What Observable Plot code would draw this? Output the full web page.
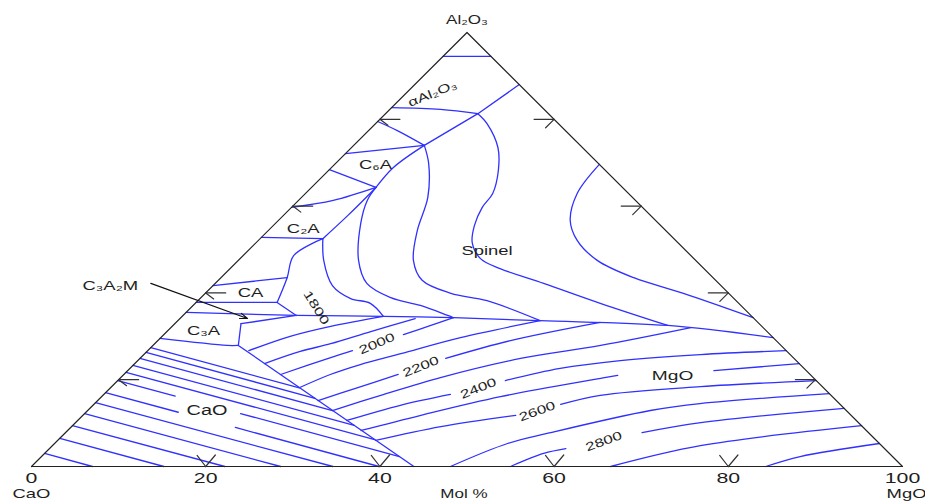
<!DOCTYPE html>
<html><head><meta charset="utf-8">
<script src="https://cdn.jsdelivr.net/npm/d3@7"></script>
<script src="https://cdn.jsdelivr.net/npm/@observablehq/plot@0.6"></script>
<style>html,body{margin:0;padding:0;background:#fff;}</style>
</head><body><div id="chart"></div>
<script>
// All compositions in mol %: [MgO, Al2O3]  (CaO = 100 - MgO - Al2O3)
const triangle = [[0,0],[100,0],[0,100],[0,0]];
const tickValues = [20,40,60,80];
const axisNumbers = [0,20,40,60,80,100];

const phaseBoundaries = [
  [[0,94.5],[5.5,94.5]],
  [[0,82.7],[5.8,82.3],[10.6,81.3]],
  [[10.6,81.3],[12,88]],
  [[10.6,81.3],[8.1,74.0]],
  [[0,79.5],[3.3,77.4],[8.1,74.0]],
  [[0,72.1],[8.1,74.0]],
  [[7.4,64.3],[7.1,68.9],[8.1,74.0]],
  [[0,68.4],[7.4,64.3]],
  [[0,59.7],[4.0,61.3],[7.4,64.3]],
  [[0,52.8],[7.2,52.5]],
  [[7.2,52.5],[7.4,57.8],[7.4,64.3]],
  [[7.2,52.5],[5.8,48.6],[7.6,43.5],[9.3,37.8]],
  [[0,41.7],[7.6,43.5]],
  [[0,37.8],[9.3,37.8]],
  [[9.3,37.8],[13.0,34.8]],
  [[0,35.5],[13.0,34.8]],
  [[7.6,32.9],[13.0,34.8]],
  [[7.6,32.9],[9.8,27.9]],
  [[0,29.5],[8.5,27.9],[9.8,27.9]],
  [[9.8,27.9],[43.9,0]],
  [[13.0,34.8],[23.1,34.6],[31.3,34.3],[41.6,33.6],[56.8,32.5],[70.3,29.7]]
];

const spinelIsotherms = [
  [[30.4,69.6],[31.2,62.9],[33.5,56.7],[36.6,52.1],[41.2,47.5],[47.4,43.5],[54.9,39.9],[65.7,34.3]],
  [[10.6,81.3],[12.8,79.0],[16.8,73.5],[19.5,68.2],[21.5,62.9],[21.9,59.7],[23.1,55.5],[24.8,51.6],[27.6,47.9],[31.0,45.6],[37.7,42.2],[46.5,37.6],[56.8,32.5]],
  [[8.1,74.0],[10.7,69.8],[14.5,62.0],[17.1,54.4],[20.1,47.5],[23.4,42.9],[28.2,39.9],[33.2,38.2],[41.6,33.6]],
  [[7.4,64.3],[7.9,61.3],[9.8,56.0],[13.8,47.5],[17.4,42.2],[21.8,38.9],[26.1,37.1],[31.3,34.3]],
  [[7.2,52.5],[9.8,47.5],[13.7,41.7],[17.3,38.7],[20.1,37.6],[23.1,34.6]]
];

const mgoIsotherms = [
  [[11.6,26.7],[14.7,30.0],[18.2,32.3],[23.1,34.6]],
  [[14.9,23.7],[17.6,26.5],[20.2,28.3],[23.4,31.1],[27.0,34.1]],
  [[18.0,21.2],[21.8,25.1],[23.5,26.7]],
  [[27.5,30.4],[29.6,32.5],[31.3,34.3]],
  [[21.7,18.2],[23.7,21.2],[26.0,23.5],[29.4,26.0],[34.4,29.7],[41.6,33.6]],
  [[25.3,15.2],[28.2,18.0],[31.5,21.2]],
  [[35.1,24.9],[40.5,29.0],[48.7,33.2]],
  [[28.1,12.9],[31.9,16.4],[36.7,20.5],[43.7,24.9],[51.4,27.9],[59.7,32.0]],
  [[30.9,10.6],[35.3,14.1],[39.8,16.6]],
  [[44.5,19.8],[49.4,22.6],[55.4,24.4],[63.9,25.8],[73.3,26.7]],
  [[33.7,8.3],[38.8,11.8],[45.8,16.1],[55.2,20.3],[56.8,21.0]],
  [[67.3,22.1],[76.3,23.7]],
  [[36.5,6.0],[42.4,9.2],[49.7,11.8]],
  [[53.6,14.3],[57.1,16.4],[67.6,18.4],[80.2,19.8]],
  [[48.1,0],[52.0,5.3],[55.7,7.8],[64.6,12.9],[69.5,14.5],[83.2,16.8]],
  [[55.0,0],[57.3,3.0],[59.3,4.1]],
  [[66.2,7.8],[71.8,10.1],[86.6,13.4]],
  [[66.5,0],[74.4,4.8],[90.6,9.4]],
  [[84.3,0],[87.1,2.3],[94.7,5.3]]
];

const caoIsotherms = [
  [[0,27.4],[21.7,18.1]],
  [[0,26.3],[24.7,15.7]],
  [[0,24.9],[28.1,12.9]],
  [[0,23.3],[32.3,9.5]],
  [[0,21.7],[36.3,6.2]],
  [[0,19.8],[8.4,16.2]],
  [[17.9,12.2],[41.1,2.3]],
  [[0,17.0],[10.6,12.5]],
  [[18.9,9.0],[39.9,0]],
  [[0,14.7],[34.6,0]],
  [[0,12.2],[28.6,0]],
  [[0,9.4],[22.2,0]],
  [[0,6.5],[15.2,0]],
  [[0,3.0],[7.0,0]]
];

const fieldLabels = [
  {text:"αAl₂O₃", m:3.1, a:85.9, rotate:-22, size:12},
  {text:"C₆A", m:4.8, a:69.4, rotate:0, size:13},
  {text:"C₂A", m:3.8, a:54.8, rotate:0, size:13},
  {text:"CA", m:5.2, a:39.9, rotate:0, size:13},
  {text:"C₃A", m:4.1, a:31.3, rotate:0, size:13},
  {text:"C₃A₂M", m:-11.8, a:41.7, rotate:0, size:13},
  {text:"Spinel", m:27.4, a:49.8, rotate:0, size:13},
  {text:"CaO", m:13.7, a:12.9, rotate:0, size:14},
  {text:"MgO", m:63.1, a:21.0, rotate:0, size:13.5}
];
const isothermLabels = [
  {text:"1800", m:14.4, a:36.6, rotate:58},
  {text:"2000", m:25.5, a:28.3, rotate:-23},
  {text:"2200", m:33.2, a:23.0, rotate:-22},
  {text:"2400", m:42.3, a:18.0, rotate:-22},
  {text:"2600", m:51.7, a:12.7, rotate:-20},
  {text:"2800", m:62.8, a:5.8, rotate:-20}
];
const pointerArrow = {from:[-7.4,42.2], to:[7.75,34.1]};

// ternary -> plane
const px = ([m,a]) => m + a/2;
const py = ([m,a]) => a;
const rows = (sets, kind) => sets.flatMap((pts, i) => pts.map(p => ({x: px(p), y: py(p), id: kind + i})));
const lineRows = [
  ...rows(phaseBoundaries, "b"),
  ...rows(spinelIsotherms, "s"),
  ...rows(mgoIsotherms, "m"),
  ...rows(caoIsotherms, "c")
];
const seg = {draw(ctx, l){ ctx.moveTo(0,0); ctx.lineTo(0,-l); }};
const bottomTicks = tickValues.map(v => ({x: v, y: 0}));
const leftTicks = tickValues.map(v => ({x: v/2, y: v}));
const rightTicks = tickValues.map(v => ({x: (100-v) + v/2, y: v}));
const lab = d => ({...d, x: d.m + d.a/2, y: d.a});
const blue = "#3030ff";
const ink = "#1e1e1e";
const font = "Liberation Sans, Arial, sans-serif";

const chart = Plot.plot({
  width: 925, height: 502,
  marginLeft: 31, marginRight: 23, marginTop: 32, marginBottom: 36,
  x: {domain: [0,100], axis: null},
  y: {domain: [0,100], axis: null},
  style: {fontFamily: font, background: "white"},
  marks: [
    Plot.line(lineRows, {x:"x", y:"y", z:"id", stroke: blue, strokeWidth: 1.3, curve: "catmull-rom"}),
    Plot.line(triangle.map(p => ({x: px(p), y: py(p)})), {x:"x", y:"y", stroke: "#222", strokeWidth: 1.2}),
    Plot.vector(bottomTicks, {x:"x", y:"y", length: 14, rotate: -38, anchor:"start", shape: seg, stroke:"#333", fill:"none", strokeWidth:1.2}),
    Plot.vector(bottomTicks, {x:"x", y:"y", length: 15, rotate: 40, anchor:"start", shape: seg, stroke:"#333", fill:"none", strokeWidth:1.2}),
    Plot.vector(leftTicks, {x:"x", y:"y", length: 20, rotate: 90, anchor:"start", shape: seg, stroke:"#333", fill:"none", strokeWidth:1.2}),
    Plot.vector(leftTicks, {x:"x", y:"y", length: 10, rotate: 127, anchor:"start", shape: seg, stroke:"#333", fill:"none", strokeWidth:1.2}),
    Plot.vector(rightTicks, {x:"x", y:"y", length: 20, rotate: -90, anchor:"start", shape: seg, stroke:"#333", fill:"none", strokeWidth:1.2}),
    Plot.vector(rightTicks, {x:"x", y:"y", length: 12, rotate: -135, anchor:"start", shape: seg, stroke:"#333", fill:"none", strokeWidth:1.2}),
    Plot.arrow([pointerArrow], {x1: d => px(d.from), y1: d => py(d.from), x2: d => px(d.to), y2: d => py(d.to), stroke: "#111", strokeWidth: 1.2, headLength: 10, headAngle: 40}),
    Plot.text(axisNumbers, {x: d => d, y: 0, text: d => String(d), dy: 12, fontSize: 15, fill: ink}),
    Plot.text(["CaO"], {x: 0, y: 0, text: d => d, dy: 27, fontSize: 13, fill: ink}),
    Plot.text(["MgO"], {x: 100, y: 0, text: d => d, dy: 27, dx: 4, fontSize: 13, fill: ink}),
    Plot.text(["Mol %"], {x: 50, y: 0, text: d => d, dy: 28, dx: -3, fontSize: 12, fill: ink}),
    Plot.text(["Al₂O₃"], {x: 50, y: 100, text: d => d, dy: -12, fontSize: 12, fill: ink}),
    Plot.text(fieldLabels.map(lab), {x:"x", y:"y", text:"text", rotate:"rotate", fontSize: d => d.size, fill: ink}),
    Plot.text(isothermLabels.map(lab), {x:"x", y:"y", text:"text", rotate:"rotate", fontSize: 12, fill: ink})
  ]
});
// The reference lettering is horizontally stretched
chart.querySelectorAll("text").forEach(t => {
  const tr = t.getAttribute("transform");
  if (tr) t.setAttribute("transform", tr + " scale(1.42,1)");
});
document.getElementById("chart").appendChild(chart);
</script>
</body></html>
